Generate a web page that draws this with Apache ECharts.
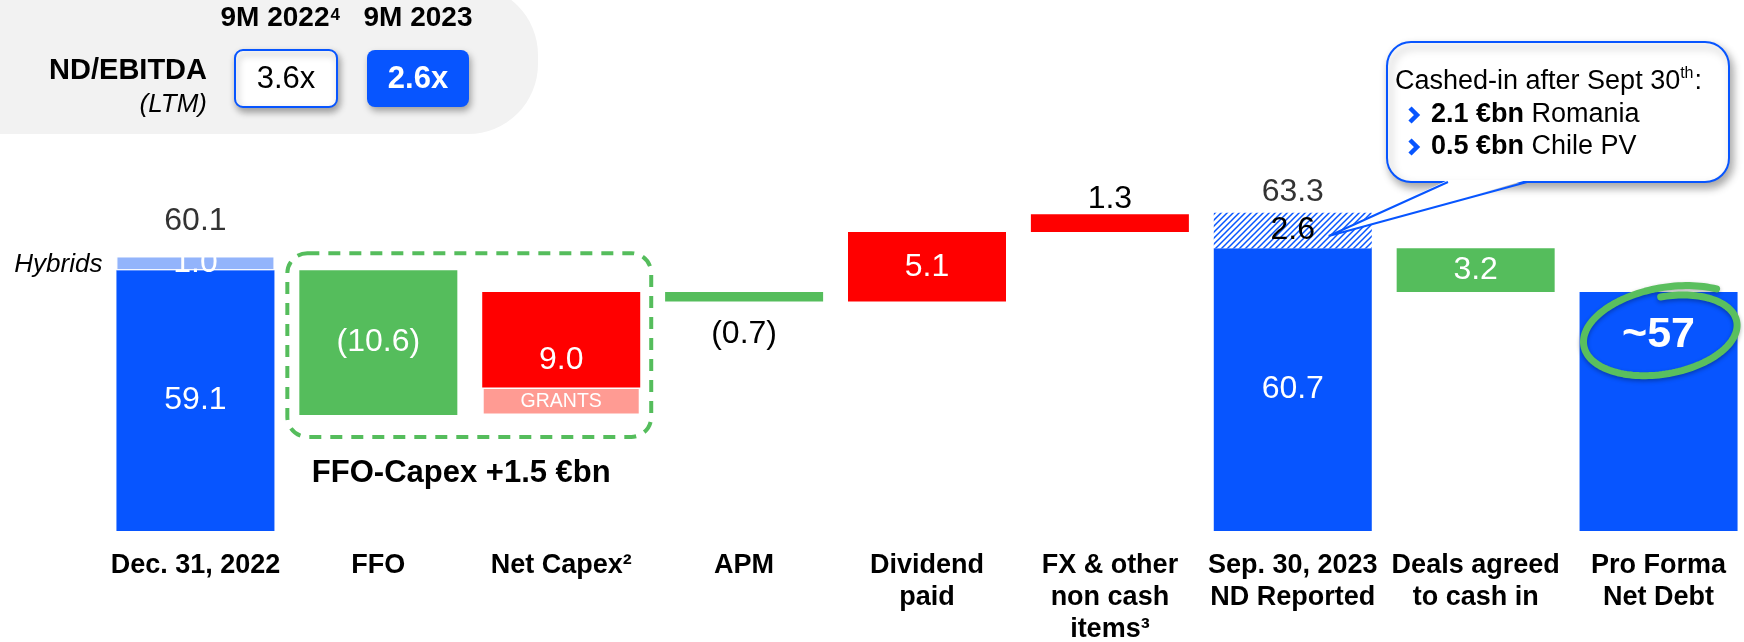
<!DOCTYPE html>
<html><head><meta charset="utf-8">
<script src="https://cdn.jsdelivr.net/npm/echarts@6/dist/echarts.min.js"></script>
<style>html,body{margin:0;padding:0;background:#fff}#c{width:1744px;height:642px}</style>
</head><body><div id="c"></div>
<script>
// ---- data ----
const categories = ['Dec. 31, 2022', 'FFO', 'Net Capex\u00B2', 'APM', 'Dividend\npaid', 'FX & other\nnon cash\nitems\u00B3', 'Sep. 30, 2023\nND Reported', 'Deals agreed\nto cash in', 'Pro Forma\nNet Debt'];
const kinds = ['total', 'delta', 'delta', 'delta', 'delta', 'delta', 'total', 'delta', 'total'];
const values = [59.1, -10.6, 9.0, -0.7, 5.1, 1.3, 60.7, -3.2, 57.5];
const bracketed = [false, true, false, true, false, false, false, false, false];
const grants = [0, 0, 2.0, 0, 0, 0, 0, 0, 0];
const topUps = [1.0, 0, 0, 0, 0, 0, 2.6, 0, 0];        // hybrids / cashed-in after Sept 30
const totalTops = [60.1, null, null, null, null, null, 63.3, null, null];
const proFormaLabel = '~57';
const ratioPeriods = ['9M 2022', '9M 2023'];
const ratioValues = ['3.6x', '2.6x'];
const calloutLines = [['2.1 \u20ACbn', 'Romania'], ['0.5 \u20ACbn', 'Chile PV']];

// ---- style ----
const BLUE = '#0755FF', GREEN = '#55BD5C', RED = '#FF0000', LBLUE = '#93B4FB', PINK = '#FF9B93';
const FF = '"Liberation Sans", Arial, sans-serif';
const VFS = 32;

// ---- waterfall stacking ----
const base = [], grantSeg = [], mainSeg = [], colors = [];
let level = 0;
values.forEach((v, i) => {
  if (kinds[i] === 'total') { base.push(0); level = v; colors.push(BLUE); }
  else if (v >= 0) { base.push(level); level += v; colors.push(RED); }
  else { level += v; base.push(level); colors.push(GREEN); }
  grantSeg.push(grants[i]);
  mainSeg.push(Math.abs(v) - grants[i]);
});
const fmt = (v, i) => {
  if (i === 8) return proFormaLabel;
  const s = Math.abs(v).toFixed(1);
  return bracketed[i] ? '(' + s + ')' : s;
};

const pc = document.createElement('canvas'); pc.width = 6; pc.height = 6;
const g = pc.getContext('2d');
g.fillStyle = '#fff'; g.fillRect(0, 0, 6, 6);
g.strokeStyle = BLUE; g.lineWidth = 1.5; g.beginPath();
g.moveTo(0, 6); g.lineTo(6, 0); g.moveTo(-1, 1); g.lineTo(1, -1); g.moveTo(5, 7); g.lineTo(7, 5); g.stroke();
const hatch = { image: pc, repeat: 'repeat' };

const mainData = mainSeg.map((m, i) => {
  const lab = { show: true, position: 'inside', color: '#fff', fontSize: VFS, fontFamily: FF, formatter: fmt(values[i], i) };
  if (i === 3) Object.assign(lab, { position: 'bottom', distance: 17, color: '#000' });
  if (i === 5) Object.assign(lab, { position: 'top', distance: -1, color: '#000' });
  if (i === 2) Object.assign(lab, { offset: [0, 20] });
  if (i === 8) Object.assign(lab, { position: 'insideTop', distance: 22, fontSize: 43, fontWeight: 'bold' });
  return { value: m, itemStyle: { color: colors[i] }, label: lab };
});
const grantData = grantSeg.map((v, i) => ({
  value: v, itemStyle: { color: PINK, borderColor: '#fff', borderWidth: v ? 1.5 : 0 },
  label: { show: v > 0, position: 'inside', color: '#fff', fontSize: 19.5, fontFamily: FF, formatter: 'GRANTS' }
}));
const topData = topUps.map((v, i) => ({
  value: v,
  itemStyle: i === 0 ? { color: LBLUE, borderColor: '#fff', borderWidth: 1 } : { color: hatch },
  label: { show: v > 0, position: 'inside', fontSize: VFS, fontFamily: FF, color: i === 0 ? '#fff' : '#000', formatter: v.toFixed(1) }
}));
const totalData = totalTops.map((v, i) => v === null ? null : {
  value: [i, v], label: { show: true, position: 'top', distance: i === 0 ? 19 : 4, color: '#000', fontSize: VFS, fontFamily: FF, formatter: v.toFixed(1) }
}).filter(d => d);

const chart = echarts.init(document.getElementById('c'), null, { renderer: 'canvas' });
chart.setOption({
  animation: false,
  backgroundColor: '#fff',
  grid: { left: 104, width: 1646, top: 53, height: 478, containLabel: false, outerBoundsMode: 'none' },
  xAxis: {
    type: 'category', data: categories,
    axisLine: { show: false }, axisTick: { show: false },
    axisLabel: { interval: 0, margin: 19, color: '#000', fontSize: 27, fontWeight: 'bold', fontFamily: FF, lineHeight: 32 }
  },
  yAxis: { type: 'value', min: 40, max: 75, show: false, splitLine: { show: false } },
  series: [
    { type: 'bar', stack: 'w', data: base, barWidth: 158, itemStyle: { color: 'transparent' }, silent: true },
    { type: 'bar', stack: 'w', data: grantData, barWidth: 158 },
    { type: 'bar', stack: 'w', data: mainData, barWidth: 158 },
    { type: 'bar', stack: 'w', data: topData, barWidth: 158 },
    { type: 'scatter', data: totalData, symbolSize: 1, itemStyle: { color: 'transparent' } }
  ]
});

// ---- decorations ----
const px = (i, v) => chart.convertToPixel({ gridIndex: 0 }, [i, v]);
const half = 79;
const ctx = document.createElement('canvas').getContext('2d');
const measure = (t, f) => { ctx.font = f; return ctx.measureText(t).width; };
const els = [];

// top-left panel
els.push({ type: 'rect', shape: { x: -100, y: -15, width: 638, height: 149, r: 70 }, style: { fill: '#F2F2F2' }, z: 0 });
els.push({ type: 'text', x: 207, y: 71, style: { text: 'ND/EBITDA', font: 'bold 29px ' + FF, fill: '#000', textAlign: 'right', textVerticalAlign: 'middle' } });
els.push({ type: 'text', x: 207, y: 105, style: { text: '(LTM)', font: 'italic 26px ' + FF, fill: '#000', textAlign: 'right', textVerticalAlign: 'middle' } });
const boxX = [235, 367];
ratioPeriods.forEach((p, k) => {
  const cx = boxX[k] + 51;
  const f = 'bold 28px ' + FF;
  const w = measure(p, f);
  const sx = k === 0 ? cx - 11 : cx;
  els.push({ type: 'text', x: sx, y: 18, style: { text: p, font: f, fill: '#000', textAlign: 'center', textVerticalAlign: 'middle' } });
  if (k === 0) els.push({ type: 'text', x: sx + w / 2 + 1, y: 15, style: { text: '4', font: 'bold 17px ' + FF, fill: '#000', textAlign: 'left', textVerticalAlign: 'middle' } });
  els.push({ type: 'rect', shape: { x: boxX[k], y: 50, width: 102, height: 57, r: 8 },
    style: k === 0 ? { fill: '#fff', stroke: BLUE, lineWidth: 2, shadowBlur: 7, shadowOffsetX: 2, shadowOffsetY: 4, shadowColor: 'rgba(0,0,0,0.35)' }
                   : { fill: BLUE, shadowBlur: 7, shadowOffsetX: 2, shadowOffsetY: 4, shadowColor: 'rgba(0,0,0,0.35)' } });
  els.push({ type: 'text', x: cx, y: 79, style: { text: ratioValues[k], font: (k === 0 ? '' : 'bold ') + '31px ' + FF, fill: k === 0 ? '#000' : '#fff', textAlign: 'center', textVerticalAlign: 'middle' } });
});

// hybrids label
const hb = px(0, 59.1 + topUps[0] / 2);
els.push({ type: 'text', x: hb[0] - half - 14, y: hb[1] + 1, style: { text: 'Hybrids', font: 'italic 26px ' + FF, fill: '#000', textAlign: 'right', textVerticalAlign: 'middle' } });

// dashed FFO-Capex box
const bTop = px(1, values[0])[1] - 17;
const bBot = px(1, values[0] + values[1])[1] + 22;
const bL = px(1, 50)[0] - half - 12, bR = px(2, 50)[0] + half + 11;
els.push({ type: 'rect', shape: { x: bL, y: bTop, width: bR - bL, height: bBot - bTop, r: 20 }, style: { fill: 'none', stroke: GREEN, lineWidth: 4, lineDash: [12, 9] } });
els.push({ type: 'text', x: (bL + bR) / 2 - 8, y: bBot + 37, style: { text: 'FFO-Capex +1.5 \u20ACbn', font: 'bold 31px ' + FF, fill: '#000', textAlign: 'center', textVerticalAlign: 'middle' } });

// callout
const cb = { x: 1387, y: 42, w: 342, h: 140 };
const tipP = px(6, 61.6);
const tip = [tipP[0] + 36, tipP[1]];
els.push({ type: 'rect', shape: { x: cb.x, y: cb.y, width: cb.w, height: cb.h, r: 24 }, style: { fill: '#fff', stroke: BLUE, lineWidth: 2, shadowBlur: 8, shadowOffsetX: 3, shadowOffsetY: 5, shadowColor: 'rgba(0,0,0,0.35)' }, z: 10 });
els.push({ type: 'polygon', shape: { points: [[1448, cb.y + cb.h - 2], tip, [1527, cb.y + cb.h - 2]] }, style: { fill: '#fff' }, z: 11 });
els.push({ type: 'polyline', shape: { points: [[1448, cb.y + cb.h], tip, [1527, cb.y + cb.h]] }, style: { stroke: BLUE, lineWidth: 2, fill: null }, z: 12 });
const f1 = '27px ' + FF;
const t1 = 'Cashed-in after Sept 30';
const w1 = measure(t1, f1);
els.push({ type: 'text', x: 1395, y: 82, style: { text: t1, font: f1, fill: '#000', textVerticalAlign: 'middle' }, z: 13 });
const wth = measure('th', '16px ' + FF);
els.push({ type: 'text', x: 1395 + w1, y: 74, style: { text: 'th', font: '16px ' + FF, fill: '#000', textVerticalAlign: 'middle' }, z: 13 });
els.push({ type: 'text', x: 1395 + w1 + wth + 1, y: 82, style: { text: ':', font: f1, fill: '#000', textVerticalAlign: 'middle' }, z: 13 });
calloutLines.forEach((ln, k) => {
  const y = 115 + k * 32;
  els.push({ type: 'polyline', shape: { points: [[1410, y - 7], [1417, y], [1410, y + 7]] }, style: { stroke: BLUE, lineWidth: 4.5, fill: null }, z: 13 });
  els.push({ type: 'text', x: 1431, y: y, style: { text: '{b|' + ln[0] + ' }{r|' + ln[1] + '}', textVerticalAlign: 'middle', fill: '#000',
    rich: { b: { fontWeight: 'bold', fontSize: 27, fontFamily: FF, fill: '#000' }, r: { fontSize: 27, fontFamily: FF, fill: '#000' } } }, z: 13 });
});

// green hand-drawn loop around pro forma label
const pf = px(8, values[8]);
const cx = pf[0] + 6, cy = pf[1] + 41, rx = 80, ry = 42, rot = -10 * Math.PI / 180;
const pts = [];
for (let k = 0; k <= 160; k++) {
  const t = k / 160;
  const th = (-88 + t * 400) * Math.PI / 180;
  const f = 0.86 + 0.24 * t;
  const x0 = rx * f * Math.cos(th), y0 = ry * f * Math.sin(th);
  pts.push([cx + x0 * Math.cos(rot) - y0 * Math.sin(rot), cy + x0 * Math.sin(rot) + y0 * Math.cos(rot)]);
}
els.push({ type: 'polyline', shape: { points: pts, smooth: 0 }, style: { stroke: '#5ABF5E', lineWidth: 7, lineCap: 'round', lineJoin: 'round', fill: null, shadowBlur: 4, shadowColor: 'rgba(0,0,0,0.3)', shadowOffsetY: 2 }, z: 20 });

chart.setOption({ graphic: { elements: els } });
</script></body></html>
